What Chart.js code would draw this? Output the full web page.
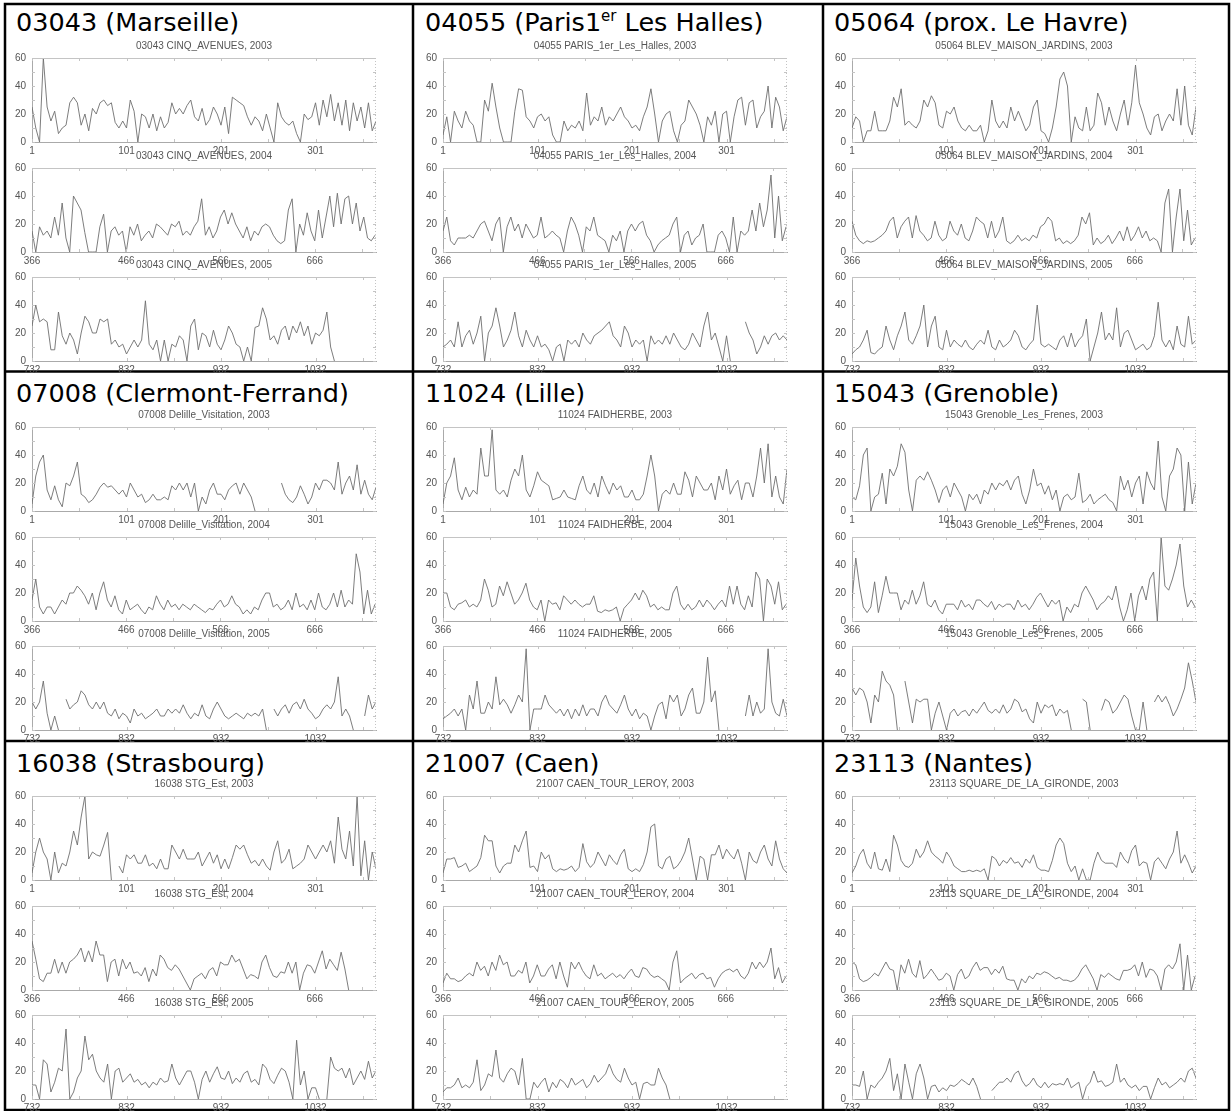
<!DOCTYPE html>
<html>
<head>
<meta charset="utf-8">
<script src="https://cdn.jsdelivr.net/npm/chart.js@4.4.1/dist/chart.umd.min.js"></script>
<style>
  html, body { margin: 0; padding: 0; background: #fff; }
  #page { position: relative; width: 1231px; height: 1111px; overflow: hidden; }
  #page canvas { position: absolute; }
  #frame { position: absolute; left: 0; top: 0; }
</style>
</head>
<body>
<div id="page">
<svg id="frame" width="1231" height="1111" xmlns="http://www.w3.org/2000/svg">
  <g stroke="#000" stroke-width="2.5" fill="none">
    <rect x="5" y="4" width="1224" height="1106"/>
    <line x1="413" y1="4" x2="413" y2="1110"/>
    <line x1="823" y1="4" x2="823" y2="1110"/>
    <line x1="5" y1="371.5" x2="1229" y2="371.5"/>
    <line x1="5" y1="741" x2="1229" y2="741"/>
  </g>
  <g id="titles" font-family="DejaVu Sans" font-size="25.5" fill="#000"></g>
</svg>
</div>
<script>
// one sample every 4 days
const STEP = 4;
const years = [2003, 2004, 2005];
const yearStart = [1, 366, 732];
const yearEnd = [365, 731, 1096];
const xTickLabels = [[1, 101, 201, 301], [366, 466, 566, 666], [732, 832, 932, 1032]];
const yTicks = [0, 10, 20, 30, 40, 50, 60];

const stations = [
  { code: "03043", city: "Marseille", site: "CINQ_AVENUES" },
  { code: "04055", city: "Paris1", sup: "er", tail: " Les Halles", site: "PARIS_1er_Les_Halles" },
  { code: "05064", city: "prox. Le Havre", site: "BLEV_MAISON_JARDINS" },
  { code: "07008", city: "Clermont-Ferrand", site: "Delille_Visitation" },
  { code: "11024", city: "Lille", site: "FAIDHERBE" },
  { code: "15043", city: "Grenoble", site: "Grenoble_Les_Frenes" },
  { code: "16038", city: "Strasbourg", site: "STG_Est" },
  { code: "21007", city: "Caen", site: "CAEN_TOUR_LEROY" },
  { code: "23113", city: "Nantes", site: "SQUARE_DE_LA_GIRONDE" },
];

const marseille2003 = [25,10,0,60,25,15,22,6,10,12, 28,32,28,12,20,8,24,20,28,30, 26,28,14,10,15,10,30,22,0,20, 18,10,20,8,18,10,14,28,20,24, 20,26,30,18,15,24,12,16,25,20, 12,25,6,32,30,28,26,18,12,18, 15,8,20,10,0,28,18,14,12,15, 6,0,20,16,18,28,12,30,18,34, 15,28,12,30,8,28,15,25,10,28, 8,15];
const marseille2004 = [15,0,18,12,15,10,25,12,35,10, 0,40,35,30,14,0,0,0,18,27, 0,15,18,12,15,0,18,12,20,8, 12,15,10,20,18,15,12,20,18,22, 12,15,12,18,22,38,12,18,10,15, 25,30,20,28,20,15,10,18,8,15, 12,18,20,18,12,8,6,8,30,38, 0,20,12,28,15,8,30,10,25,40, 18,42,20,38,40,20,35,15,25,10, 8,12];
const marseille2005 = [25,40,28,30,28,8,8,35,18,12, 20,15,5,20,32,28,20,20,30,28, 30,12,15,10,12,5,10,15,10,15, 43,12,8,15,0,15,0,12,10,18, 15,0,25,30,8,20,18,10,22,12, 8,15,25,20,12,10,0,10,0,24, 25,38,30,15,18,12,22,25,15,25, 20,28,18,25,12,20,18,22,35,10, 0,null,null,null,null,null,null,null,null,null, null,null];

const paris2003 = [5,18,0,22,15,10,22,15,12,0, 0,30,22,42,25,10,0,0,0,22, 38,37,18,15,10,18,20,15,18,5, 0,0,15,8,12,10,15,8,35,12, 18,15,25,12,18,15,20,25,18,15, 10,12,8,18,25,38,20,0,15,20, 22,8,0,12,15,30,25,20,12,0, 18,12,22,0,20,22,0,18,30,32, 12,28,30,10,18,22,40,10,32,25, 8,18];
const paris2004 = [15,25,8,5,10,10,10,12,10,15, 20,22,15,8,20,25,0,18,25,15, 20,10,20,15,10,12,25,10,12,15, 12,10,0,15,25,20,12,0,18,15, 25,12,10,8,0,12,8,15,0,15, 20,15,20,22,12,8,0,5,8,10, 12,20,25,0,12,15,5,10,12,20, 0,0,0,12,15,10,0,25,0,15, 12,15,30,15,35,18,30,55,10,40, 8,18];
const paris2005 = [10,12,15,10,28,10,18,22,12,20, 32,0,20,25,38,25,10,15,22,35, 18,10,22,15,10,18,10,12,8,0, 10,12,0,15,12,15,10,20,15,12, 18,20,22,25,28,18,15,10,25,20, 10,15,12,15,0,18,12,15,12,18, 12,20,15,10,8,12,20,15,10,25, 35,15,20,10,0,18,0,null,null,null, 28,20,15,5,10,18,12,18,20,15, 18,15];

const havre2003 = [10,18,15,0,8,8,22,8,8,8, 15,32,25,38,12,15,12,10,15,30, 25,33,28,12,10,22,20,25,15,10, 8,12,8,8,12,0,8,30,15,10, 15,10,25,15,22,15,8,12,25,30, 8,6,0,10,25,45,50,40,0,18, 10,8,25,8,12,35,28,12,25,15, 8,20,30,12,28,55,28,20,10,5, 18,20,8,15,20,15,38,12,40,12, 5,25];
const havre2004 = [22,12,8,6,8,7,8,10,12,15, 22,25,10,18,22,25,10,26,15,12, 8,10,22,12,8,10,22,15,12,20, 10,8,15,25,22,20,10,22,10,15, 25,8,6,8,12,8,10,8,12,10, 18,20,25,22,8,10,6,8,6,8, 12,25,20,28,5,10,6,8,12,6, 10,15,8,18,8,12,18,10,15,8, 10,8,0,35,45,0,25,45,8,30, 5,10];
const havre2005 = [5,8,10,15,22,6,5,8,10,25, 15,8,18,25,35,15,12,18,25,40, 10,25,32,10,8,22,10,15,12,10, 15,10,8,12,15,12,22,10,8,15, 10,12,15,22,18,10,8,12,15,40, 12,10,12,10,8,15,18,10,20,10, 15,18,30,0,10,20,35,15,20,15, 38,10,20,22,15,8,10,12,8,10, 18,42,15,10,15,8,25,12,10,32, 12,15];

const clermont2003 = [5,25,35,40,15,8,18,8,3,20, 18,25,35,12,10,6,8,12,17,20, 17,18,15,12,15,10,20,15,10,12, 6,8,12,8,8,10,8,18,15,20, 15,20,10,20,0,10,5,15,20,12, 12,8,15,18,20,12,20,15,10,0, null,null,null,null,null,null,20,12,8,6, 10,18,12,5,10,20,15,22,22,20, 15,35,12,20,25,15,33,12,22,12, 8,17];
const clermont2004 = [15,30,10,5,10,10,5,10,15,12, 20,20,25,22,18,12,20,8,20,28, 15,10,18,8,5,15,8,10,12,8, 5,10,8,18,12,8,15,10,12,8, 12,10,8,12,10,8,6,9,8,12, 15,10,12,18,12,10,5,8,5,10, 8,15,20,20,10,12,8,10,15,8, 20,10,12,8,15,8,20,10,8,12, 20,10,22,10,15,12,48,35,5,22, 5,12];
const clermont2005 = [20,15,20,35,12,0,10,0,null,22, 15,18,20,28,25,18,15,20,15,20, 12,10,15,8,12,10,5,15,10,12, 8,10,12,15,10,10,15,12,15,12, 18,12,8,12,10,18,10,8,15,20, 15,10,8,10,12,10,8,12,10,12, 10,15,0,null,15,10,15,18,12,18, 20,15,22,15,12,8,10,15,18,15, 20,38,10,15,10,0,null,null,10,25, 15,20];

const lille2003 = [5,20,25,38,15,8,17,10,15,12, 45,25,25,58,15,12,15,10,22,30, 25,40,15,10,18,28,22,20,18,8, 9,10,15,10,9,8,18,25,15,12, 20,10,25,18,12,20,15,18,10,10, 15,8,8,12,25,40,25,0,12,15, 12,20,12,12,28,22,10,25,20,15, 15,20,8,25,15,30,12,18,22,8, 20,20,10,25,45,20,48,10,25,10, 5,30];
const lille2004 = [20,20,10,8,12,13,15,10,12,10, 15,30,22,10,12,25,18,28,20,12, 15,20,27,15,10,8,15,0,15,12, 13,8,18,15,12,15,12,10,12,12, 18,7,6,8,7,8,10,0,9,12, 15,20,15,22,18,10,12,8,10,8, 8,20,25,12,8,12,8,10,15,10, 15,12,8,12,15,10,25,12,25,12, 8,18,10,35,30,0,30,25,12,28, 8,12];
const lille2005 = [8,10,12,15,10,15,0,25,15,35, 12,12,20,15,38,18,22,18,12,18, 25,20,58,0,15,15,15,25,18,15, 12,15,10,15,8,15,10,18,10,15, 15,10,20,25,18,15,12,18,25,15, 10,15,8,12,10,0,10,18,20,8, 25,20,25,10,15,25,30,12,12,20, 52,20,28,0,null,null,null,null,null,null, 10,25,10,20,12,15,58,20,12,10, 22,10];

const grenoble2003 = [10,8,18,40,45,0,10,12,27,5, 30,25,32,48,42,15,0,22,25,22, 28,22,15,6,15,18,10,20,15,10, 0,12,8,12,5,15,12,20,15,20, 18,22,15,22,25,12,5,15,30,18, 20,12,18,8,15,0,10,12,8,10, 27,6,8,12,5,8,10,12,8,6, 0,25,15,22,10,20,25,5,28,20, 15,50,10,0,25,30,45,40,0,35, 5,20];
const grenoble2004 = [15,45,25,10,6,10,28,6,18,32, 20,20,20,8,15,12,22,12,18,28, 12,10,15,8,5,12,12,12,8,15, 10,12,8,15,15,12,10,14,8,12, 10,12,12,8,15,10,12,8,12,17, 20,15,10,15,12,15,0,10,6,12, 10,20,25,20,15,8,12,14,18,15, 25,10,0,8,20,0,18,25,15,30, 35,0,60,25,22,30,40,55,25,10, 15,10];
const grenoble2005 = [30,25,30,28,20,5,25,20,42,35, 32,25,0,null,35,20,5,22,20,22, 22,0,12,20,10,0,12,15,10,13, 14,10,15,12,16,20,14,12,15,12, 18,12,15,22,20,13,15,8,5,20, 12,18,16,18,10,15,12,14,0,null, null,22,20,0,null,null,14,22,20,12, 15,20,25,22,10,0,0,20,0,null, 20,25,20,24,18,10,15,22,30,48, 35,20];

const strasbourg2003 = [5,20,30,20,15,0,20,5,12,10, 20,35,25,45,60,15,20,18,17,25, 34,0,null,10,5,18,15,18,12,12, 18,10,12,8,15,8,8,25,20,15, 22,15,15,15,20,10,15,20,12,18, 8,15,8,16,25,22,25,18,12,14, 10,15,10,7,20,28,12,15,22,8, 10,12,15,25,20,15,20,25,20,28, 12,45,22,15,35,10,60,3,28,0, 20,8];
const strasbourg2004 = [35,22,8,6,12,12,22,12,20,12, 20,22,25,30,20,28,20,35,25,25, 6,20,22,10,22,15,20,12,13,10, 16,6,15,10,25,22,16,14,18,15, 10,5,0,8,10,12,8,14,16,10, 20,18,18,25,20,22,15,8,11,10, 8,20,25,16,10,9,13,12,20,12, 20,0,12,18,17,12,20,28,15,22, 18,14,27,15,0,null,null,null,null,null, null,null];
const strasbourg2005 = [10,10,0,28,25,5,12,22,20,50, 0,5,15,20,45,28,32,20,15,12, 25,0,20,22,12,15,18,12,14,10, 12,8,12,10,15,12,13,25,15,10, 15,20,20,12,0,14,20,12,18,23, 15,14,20,11,15,12,18,20,12,14, 10,25,22,14,11,17,22,20,12,0, 42,10,20,0,8,8,0,null,0,30, 22,20,22,15,22,10,15,20,14,27, 15,20];

const caen2003 = [5,15,15,16,9,10,12,6,8,10, 16,32,28,28,10,5,10,12,12,25, 20,28,35,9,10,6,20,15,18,8, 6,8,7,8,10,6,9,26,13,9, 12,20,15,10,18,14,11,18,22,8, 6,8,6,11,20,38,40,10,8,15, 17,8,10,14,20,30,15,0,17,15, 0,18,18,25,15,22,18,15,22,12, 0,20,14,12,20,25,15,10,28,15, 8,5];
const caen2004 = [5,12,8,8,6,7,10,12,10,20, 14,17,10,20,14,25,18,20,10,10, 14,12,20,5,10,18,10,10,15,18, 8,20,10,2,20,15,20,14,10,8, 18,10,12,8,10,12,9,11,8,12, 15,10,9,16,15,11,9,10,8,6, 0,20,28,5,8,10,12,8,11,12, 8,9,2,8,12,14,15,13,15,10, 8,12,20,15,20,16,20,30,8,16, 5,10];
const caen2005 = [5,8,8,10,15,8,10,8,12,28, 6,10,18,16,35,15,12,18,22,20, 10,29,0,0,12,8,12,15,5,12, 8,14,12,8,15,10,12,14,8,11, 17,12,15,18,25,18,14,12,22,15, 10,12,0,11,12,10,10,22,15,10, 0,null,null,null,null,null,null,null,null,null, null,null,null,null,null,null,null,null,null,null, null,null,null,null,null,null,null,null,null,null, null,null];

const nantes2003 = [5,10,18,22,12,8,20,8,7,15, 6,32,25,14,10,9,12,22,16,20, 28,20,17,15,12,20,16,10,8,6, 6,7,6,7,6,8,0,17,15,10, 14,12,16,12,13,9,15,12,18,9, 7,7,6,14,25,30,26,12,6,10, 0,8,0,0,12,20,14,12,12,12, 9,20,15,12,21,25,10,13,12,0, 13,16,12,8,15,20,35,12,18,12, 5,10];
const nantes2004 = [20,18,8,6,7,9,12,10,15,20, 15,14,0,18,12,22,12,9,21,8, 11,15,11,7,8,12,10,0,11,15, 8,10,16,20,14,16,16,11,15,12, 17,8,7,7,0,8,5,10,8,12, 11,13,12,10,8,9,7,7,6,7, 10,15,18,13,8,0,11,9,12,10, 8,7,14,14,15,18,10,20,9,15, 14,10,0,15,18,15,20,33,0,25, 0,10];
const nantes2005 = [10,10,9,20,0,10,8,12,15,20, 29,6,18,0,25,12,0,18,25,15, 0,9,10,5,8,6,10,9,11,14, 12,10,15,9,0,null,null,6,9,12, 12,15,12,18,20,13,9,11,15,10, 8,12,8,11,10,11,10,15,8,10, 12,0,9,12,20,12,13,9,10,12, 25,12,15,10,8,10,6,9,9,0, 8,15,10,12,8,10,12,15,12,20, 22,15];

const series = [
  [marseille2003, marseille2004, marseille2005],
  [paris2003, paris2004, paris2005],
  [havre2003, havre2004, havre2005],
  [clermont2003, clermont2004, clermont2005],
  [lille2003, lille2004, lille2005],
  [grenoble2003, grenoble2004, grenoble2005],
  [strasbourg2003, strasbourg2004, strasbourg2005],
  [caen2003, caen2004, caen2005],
  [nantes2003, nantes2004, nantes2005],
];

// layout of the 3x3 table
const rowTop = [3, 372, 741];
const plotTopOffset = [55, 165, 274];
const plotLeft = [32, 443, 852];
const titleX = [16, 425, 834];
const titleBaseline = [31, 402, 772];

Chart.defaults.font.family = "'Liberation Sans', Arial, sans-serif";
Chart.defaults.font.size = 10;
Chart.defaults.color = "#555";

const page = document.getElementById("page");
const svgNS = "http://www.w3.org/2000/svg";
const titles = document.getElementById("titles");

// light frame on top/right, small inward ticks
const framePlugin = {
  id: "frame",
  afterDatasetsDraw(chart) {
    const { ctx, chartArea: a, scales: { x, y } } = chart;
    ctx.save();
    ctx.strokeStyle = "#c4c4c4";
    ctx.lineWidth = 1;
    ctx.beginPath();
    ctx.moveTo(a.left, a.top + 0.5);
    ctx.lineTo(a.right, a.top + 0.5);
    ctx.stroke();
    ctx.setLineDash([1, 2]);
    ctx.beginPath();
    ctx.moveTo(a.right - 0.5, a.top);
    ctx.lineTo(a.right - 0.5, a.bottom);
    ctx.stroke();
    ctx.setLineDash([]);
    ctx.beginPath();
    for (let v = x.min; v <= x.max; v += 50) {
      const px = Math.round(x.getPixelForValue(v)) + 0.5;
      ctx.moveTo(px, a.top); ctx.lineTo(px, a.top + 3);
      ctx.moveTo(px, a.bottom); ctx.lineTo(px, a.bottom - 3);
    }
    yTicks.forEach(v => {
      const py = Math.round(y.getPixelForValue(v)) + 0.5;
      ctx.moveTo(a.left, py); ctx.lineTo(a.left + 3, py);
      ctx.moveTo(a.right, py); ctx.lineTo(a.right - 3, py);
    });
    ctx.stroke();
    ctx.restore();
  }
};

function addTitle(st, row, col) {
  const t = document.createElementNS(svgNS, "text");
  t.setAttribute("x", titleX[col]);
  t.setAttribute("y", titleBaseline[row]);
  t.appendChild(document.createTextNode(st.code + " (" + st.city));
  if (st.sup) {
    const s = document.createElementNS(svgNS, "tspan");
    s.setAttribute("font-size", "15");
    s.setAttribute("dy", "-10");
    s.textContent = st.sup;
    const r = document.createElementNS(svgNS, "tspan");
    r.setAttribute("dy", "10");
    r.textContent = st.tail + ")";
    t.appendChild(s);
    t.appendChild(r);
  } else {
    t.appendChild(document.createTextNode(")"));
  }
  titles.appendChild(t);
}

function makeChart(st, row, col, k, values) {
  const canvas = document.createElement("canvas");
  canvas.width = 384;
  canvas.height = 122;
  canvas.style.left = (plotLeft[col] - 30) + "px";
  canvas.style.top = (rowTop[row] + plotTopOffset[k] - 20) + "px";
  page.appendChild(canvas);

  new Chart(canvas, {
    type: "line",
    data: {
      datasets: [{
        data: values.map((v, i) => ({ x: yearStart[k] + STEP * i, y: v })),
        borderColor: "#6e6e6e",
        borderWidth: 0.9,
        pointRadius: 0,
        tension: 0,
        spanGaps: false,
      }],
    },
    options: {
      responsive: false,
      animation: false,
      devicePixelRatio: 1,
      layout: { padding: { left: 0, right: 10, top: 0, bottom: 0 } },
      plugins: {
        legend: { display: false },
        tooltip: { enabled: false },
        title: {
          display: true,
          fullSize: false,
          text: st.code + " " + st.site + ", " + years[k],
          color: "#555",
          font: { size: 10, weight: "normal" },
          padding: { top: 2, bottom: 6 },
        },
      },
      scales: {
        x: {
          type: "linear",
          min: yearStart[k],
          max: yearEnd[k],
          afterBuildTicks: s => { s.ticks = xTickLabels[k].map(v => ({ value: v })); },
          afterFit: s => { s.height = 18; },
          grid: { display: false, drawTicks: false },
          border: { display: true, color: "#aaa" },
          ticks: { padding: 3, maxRotation: 0, autoSkip: false, callback: v => String(v) },
        },
        y: {
          min: 0,
          max: 60,
          afterBuildTicks: s => { s.ticks = yTicks.map(v => ({ value: v })); },
          afterFit: s => { s.width = 30; },
          grid: { display: false, drawTicks: false },
          border: { display: true, color: "#aaa" },
          ticks: { padding: 6, callback: v => String(v) },
        },
      },
    },
    plugins: [framePlugin],
  });
}

stations.forEach((st, n) => {
  const row = Math.floor(n / 3), col = n % 3;
  addTitle(st, row, col);
  for (let k = 0; k < 3; k++) makeChart(st, row, col, k, series[n][k]);
});
</script>
</body>
</html>
